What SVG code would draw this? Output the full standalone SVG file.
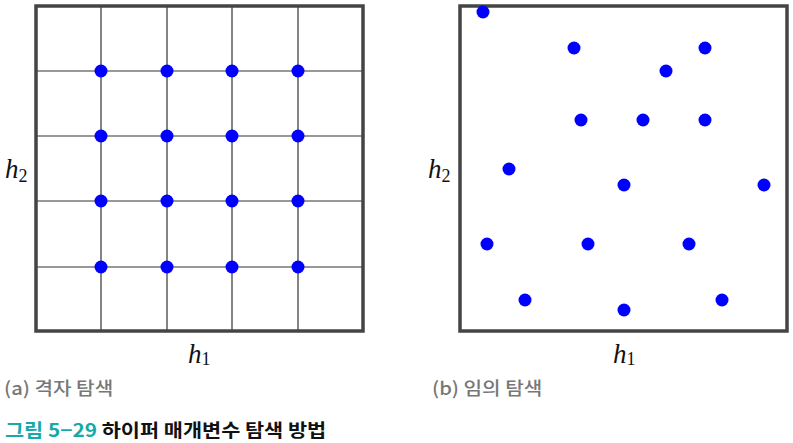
<svg xmlns="http://www.w3.org/2000/svg" width="793" height="443" viewBox="0 0 793 443">
<style>
.frame{fill:none;stroke:#444;stroke-width:3.5}
.grid{stroke:#333;stroke-width:1.2}
.dot{fill:#0000ff}
.var{font-family:"Liberation Serif",serif;font-style:italic;font-size:27px;fill:#111}
.sub{font-family:"Liberation Serif",serif;font-style:normal;font-size:18px}
.cap{font-family:"Noto Sans CJK KR","Noto Sans",sans-serif;font-size:18px;font-weight:500;fill:#777}
.title{font-family:"Noto Sans CJK KR","Noto Sans",sans-serif;font-size:18px;font-weight:bold;fill:#111}
.num{fill:#17a9aa}
</style>
<defs>
<circle id="d" r="6.5" class="dot"/>
</defs>
<g id="grid-panel">
<g id="grid-lines">
<line class="grid" x1="101" y1="5" x2="101" y2="331"/>
<line class="grid" x1="167" y1="5" x2="167" y2="331"/>
<line class="grid" x1="232" y1="5" x2="232" y2="331"/>
<line class="grid" x1="298" y1="5" x2="298" y2="331"/>
<line class="grid" x1="35" y1="71" x2="363" y2="71"/>
<line class="grid" x1="35" y1="136" x2="363" y2="136"/>
<line class="grid" x1="35" y1="201" x2="363" y2="201"/>
<line class="grid" x1="35" y1="267" x2="363" y2="267"/>
</g>
<rect class="frame" x="36" y="6" width="327" height="325"/>
<g id="grid-dots">
<use href="#d" x="101" y="71"/><use href="#d" x="167" y="71"/><use href="#d" x="232" y="71"/><use href="#d" x="298" y="71"/>
<use href="#d" x="101" y="136"/><use href="#d" x="167" y="136"/><use href="#d" x="232" y="136"/><use href="#d" x="298" y="136"/>
<use href="#d" x="101" y="201"/><use href="#d" x="167" y="201"/><use href="#d" x="232" y="201"/><use href="#d" x="298" y="201"/>
<use href="#d" x="101" y="267"/><use href="#d" x="167" y="267"/><use href="#d" x="232" y="267"/><use href="#d" x="298" y="267"/>
</g>
<text class="var" x="5" y="178">h<tspan class="sub" dy="4">2</tspan></text>
<text class="var" x="188" y="363">h<tspan class="sub" dy="2">1</tspan></text>
<text class="cap" transform="translate(4,395) scale(1.12,1)">(a) 격자 탐색</text>
</g>
<g id="random-panel">
<rect class="frame" x="460" y="6" width="327" height="325"/>
<g id="random-dots">
<use href="#d" x="483" y="12"/>
<use href="#d" x="574" y="48"/>
<use href="#d" x="705" y="48"/>
<use href="#d" x="666" y="71"/>
<use href="#d" x="581" y="120"/>
<use href="#d" x="643" y="120"/>
<use href="#d" x="705" y="120"/>
<use href="#d" x="509" y="169"/>
<use href="#d" x="624" y="185"/>
<use href="#d" x="764" y="185"/>
<use href="#d" x="487" y="244"/>
<use href="#d" x="588" y="244"/>
<use href="#d" x="689" y="244"/>
<use href="#d" x="525" y="300"/>
<use href="#d" x="624" y="310"/>
<use href="#d" x="722" y="300"/>
</g>
<text class="var" x="428" y="178">h<tspan class="sub" dy="4">2</tspan></text>
<text class="var" x="613" y="363">h<tspan class="sub" dy="2">1</tspan></text>
<text class="cap" transform="translate(432,395) scale(1.12,1)">(b) 임의 탐색</text>
</g>
<text class="title" transform="translate(5,437) scale(1.155,1)"><tspan class="num">그림 5−29</tspan> 하이퍼 매개변수 탐색 방법</text>
</svg>
